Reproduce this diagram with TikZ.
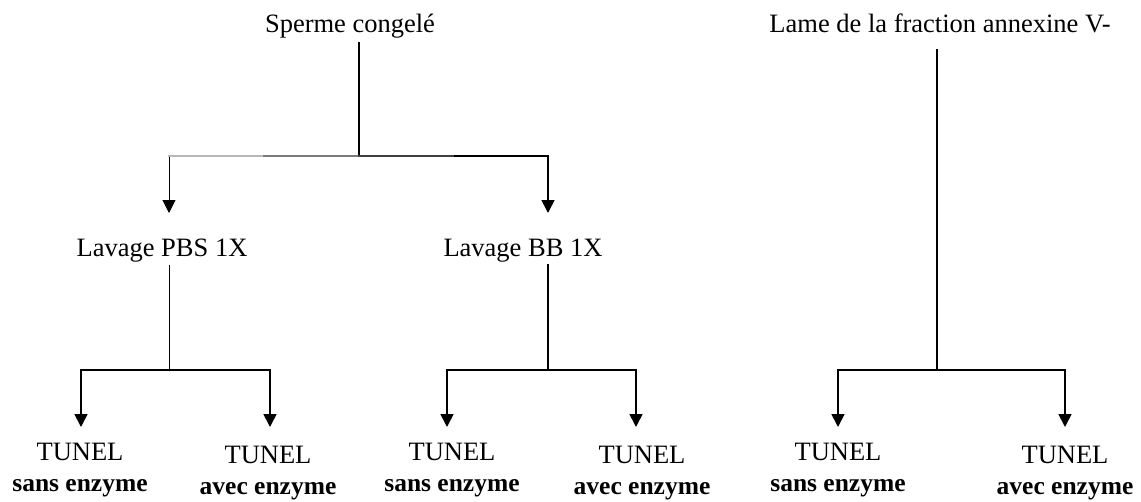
\documentclass[tikz,border=0pt]{standalone}
\usepackage{fontspec}
\setmainfont{Liberation Serif}
\usetikzlibrary{arrows.meta}
\newcommand{\subl}[1]{{\fontsize{25.5}{31}\selectfont\bfseries #1}}
\begin{document}
\begin{tikzpicture}[x=1pt,y=-1pt,
  lbl/.style={font=\fontsize{26.5}{28}\selectfont, inner sep=0pt, anchor=base},
  tun/.style={font=\fontsize{26.5}{31}\selectfont, align=center, inner sep=0pt, anchor=base},
  conn/.style={line width=1.7pt, line cap=rect},
  thin/.style={line width=1pt},
  arr/.style={conn, -{Triangle[width=13pt,length=13pt]}},
  arrthin/.style={thin, -{Triangle[width=13pt,length=13pt]}}]
\useasboundingbox (0,0) rectangle (1141,501);

% nodes
\node[lbl] (sperme) at (350,32) {Sperme congelé};
\node[lbl] (lame) at (940,32) {Lame de la fraction annexine V-};
\node[lbl] (pbs) at (162,256) {Lavage PBS 1X};
\node[lbl] (bb) at (523,256) {Lavage BB 1X};
\node[tun] (t1) at (80,491) {TUNEL\\\subl{sans enzyme}};
\node[tun] (t2) at (268,494) {TUNEL\\\subl{avec enzyme}};
\node[tun] (t3) at (452,491) {TUNEL\\\subl{sans enzyme}};
\node[tun] (t4) at (642,494) {TUNEL\\\subl{avec enzyme}};
\node[tun] (t5) at (838,491) {TUNEL\\\subl{sans enzyme}};
\node[tun] (t6) at (1065,494) {TUNEL\\\subl{avec enzyme}};

% junctions and arrow tips
\coordinate (s0) at (359,43);
\coordinate (j1) at (359,156);
\coordinate (a1) at (169,213);
\coordinate (a2) at (548,213);
\coordinate (p0) at (169,265);
\coordinate (j2) at (169,370);
\coordinate (b0) at (548,265);
\coordinate (j3) at (548,370);
\coordinate (l0) at (937,50);
\coordinate (j4) at (937,370);
\coordinate (e1) at (81,427);
\coordinate (e2) at (270,427);
\coordinate (e3) at (447,427);
\coordinate (e4) at (636,427);
\coordinate (e5) at (838,427);
\coordinate (e6) at (1065,427);

% top tree
\draw[conn] (s0) -- (j1);
\draw[arrthin] (j1) -| (a1);
\draw[arr] (j1) -| (a2);
\draw[conn, draw=black!28] (a1 |- j1) -- (264,156);
\draw[conn, draw=black!52] (264,156) -- (j1);
\draw[conn, draw=black!75] (j1) -- (453,156);

% PBS
\draw[thin] (p0) -- (j2);
\draw[arr] (j2) -| (e1);
\draw[arr] (j2) -| (e2);

% BB
\draw[conn] (b0) -- (j3);
\draw[arr] (j3) -| (e3);
\draw[arr] (j3) -| (e4);

% Lame
\draw[conn] (l0) -- (j4);
\draw[arr] (j4) -| (e5);
\draw[arr] (j4) -| (e6);
\end{tikzpicture}
\end{document}
